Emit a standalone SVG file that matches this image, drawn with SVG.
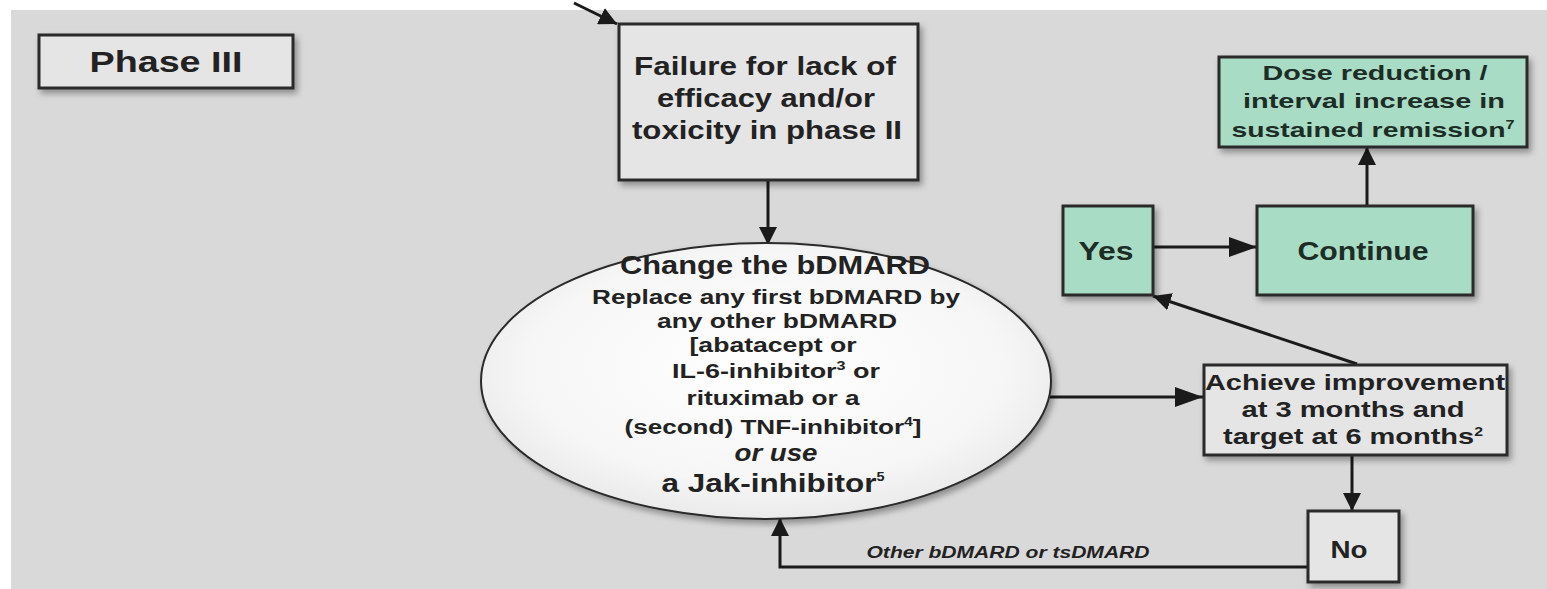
<svg xmlns="http://www.w3.org/2000/svg" width="1547" height="589" viewBox="0 0 1547 589">
<style>
text{font-family:"Liberation Sans",Arial,sans-serif;font-weight:bold;fill:#222;text-anchor:middle}
.box{fill:#e5e5e5;stroke:#2a2a2a;stroke-width:3}
.green{fill:#a8dcc5;stroke:#2a2a2a;stroke-width:3}
.gt{fill:#1d2d25}
.conn{fill:none;stroke:#1a1a1a;stroke-width:3}
.sup{font-size:12px}
</style>
<defs>
<filter id="sh" x="-10%" y="-10%" width="130%" height="140%">
<feDropShadow dx="3" dy="4" stdDeviation="3" flood-color="#000" flood-opacity="0.35"/>
</filter>
<radialGradient id="eg" cx="0.5" cy="0.45" r="0.6">
<stop offset="0" stop-color="#ffffff"/>
<stop offset="0.7" stop-color="#f6f6f6"/>
<stop offset="1" stop-color="#e6e6e6"/>
</radialGradient>
<marker id="ah" markerUnits="userSpaceOnUse" markerWidth="18" markerHeight="18" refX="18" refY="9" orient="auto">
<path d="M0,0 L18,9 L0,18 z" fill="#1a1a1a"/>
</marker>
<marker id="ahw" markerUnits="userSpaceOnUse" markerWidth="28" markerHeight="20" refX="28" refY="10" orient="auto">
<path d="M0,0 L28,10 L0,20 z" fill="#1a1a1a"/>
</marker>
</defs>
<rect x="0" y="0" width="1547" height="589" fill="#ffffff"/>
<rect x="11" y="10" width="1536" height="579" fill="#d9d9d9"/>

<g id="connectors">
<line class="conn" x1="574" y1="3" x2="617" y2="24" stroke-width="4" marker-end="url(#ah)"/>
<line class="conn" x1="768" y1="180" x2="768" y2="245" marker-end="url(#ah)"/>
<line class="conn" x1="1050" y1="397" x2="1203" y2="397" marker-end="url(#ahw)"/>
<line class="conn" x1="1357" y1="364" x2="1153" y2="296" marker-end="url(#ah)"/>
<line class="conn" x1="1153" y1="247" x2="1257" y2="247" marker-end="url(#ahw)"/>
<line class="conn" x1="1367" y1="206" x2="1367" y2="147" marker-end="url(#ah)"/>
<line class="conn" x1="1352" y1="455" x2="1352" y2="511" marker-end="url(#ah)"/>
<polyline class="conn" points="1308,567 780,567 780,518" marker-end="url(#ah)"/>
<text x="1008" y="558" font-size="16" font-style="italic" font-weight="normal" textLength="283" lengthAdjust="spacingAndGlyphs">Other bDMARD or tsDMARD</text>
</g>

<g id="phase3">
<rect class="box" x="39" y="35" width="254" height="53" fill="#e8e8e8" filter="url(#sh)"/>
<text x="166" y="72" font-size="30" textLength="153" lengthAdjust="spacingAndGlyphs">Phase III</text>
</g>

<g id="failure">
<rect class="box" x="619" y="24" width="299" height="156" filter="url(#sh)"/>
<text x="765" y="75" font-size="25" textLength="262" lengthAdjust="spacingAndGlyphs">Failure  for lack of</text>
<text x="766" y="107" font-size="25" textLength="218" lengthAdjust="spacingAndGlyphs">efficacy and/or</text>
<text x="767" y="139" font-size="25" textLength="270" lengthAdjust="spacingAndGlyphs">toxicity in phase II</text>
</g>

<g id="change">
<ellipse cx="766" cy="381" rx="285" ry="138" fill="url(#eg)" stroke="#2a2a2a" stroke-width="2" filter="url(#sh)"/>
<text x="775" y="274" font-size="26" textLength="310" lengthAdjust="spacingAndGlyphs">Change the bDMARD</text>
<text x="776" y="304" font-size="20" textLength="368" lengthAdjust="spacingAndGlyphs">Replace any first bDMARD by</text>
<text x="777" y="328" font-size="20" textLength="240" lengthAdjust="spacingAndGlyphs">any other bDMARD</text>
<text x="773" y="352" font-size="20" textLength="167" lengthAdjust="spacingAndGlyphs">[abatacept or</text>
<text x="776" y="378" font-size="20" textLength="208" lengthAdjust="spacingAndGlyphs">IL-6-inhibitor<tspan class="sup" dy="-8">3</tspan><tspan dy="8"> or</tspan></text>
<text x="773" y="405" font-size="20" textLength="173" lengthAdjust="spacingAndGlyphs">rituximab or a</text>
<text x="773" y="434" font-size="20" textLength="297" lengthAdjust="spacingAndGlyphs">(second) TNF-inhibitor<tspan class="sup" dy="-8">4</tspan><tspan dy="8">]</tspan></text>
<text x="776" y="461" font-size="24" font-style="italic" textLength="83" lengthAdjust="spacingAndGlyphs">or use</text>
<text x="773" y="492" font-size="26" textLength="223" lengthAdjust="spacingAndGlyphs">a Jak-inhibitor<tspan class="sup" dy="-11">5</tspan></text>
</g>

<g id="dose">
<rect class="green" x="1219" y="57" width="308" height="90" filter="url(#sh)"/>
<text class="gt" x="1375" y="80" font-size="21" textLength="225" lengthAdjust="spacingAndGlyphs">Dose reduction /</text>
<text class="gt" x="1374" y="108" font-size="21" textLength="262" lengthAdjust="spacingAndGlyphs">interval increase in</text>
<text class="gt" x="1373" y="137" font-size="21" textLength="283" lengthAdjust="spacingAndGlyphs">sustained remission<tspan class="sup" dy="-8">7</tspan></text>
</g>

<g id="yes">
<rect class="green" x="1063" y="206" width="90" height="89" filter="url(#sh)"/>
<text class="gt" x="1106" y="260" font-size="26" textLength="55" lengthAdjust="spacingAndGlyphs">Yes</text>
</g>

<g id="continue">
<rect class="green" x="1257" y="206" width="216" height="89" filter="url(#sh)"/>
<text class="gt" x="1363" y="260" font-size="26" textLength="131" lengthAdjust="spacingAndGlyphs">Continue</text>
</g>

<g id="achieve">
<rect class="box" x="1204" y="365" width="303" height="90" filter="url(#sh)"/>
<text x="1355" y="390" font-size="22" textLength="300" lengthAdjust="spacingAndGlyphs">Achieve improvement</text>
<text x="1353" y="417" font-size="22" textLength="223" lengthAdjust="spacingAndGlyphs">at 3 months and</text>
<text x="1353" y="444" font-size="22" textLength="260" lengthAdjust="spacingAndGlyphs">target at 6 months<tspan class="sup" dy="-8">2</tspan></text>
</g>

<g id="no">
<rect class="box" x="1308" y="511" width="91" height="71" filter="url(#sh)"/>
<text x="1349" y="558" font-size="24" textLength="37" lengthAdjust="spacingAndGlyphs">No</text>
</g>
</svg>
